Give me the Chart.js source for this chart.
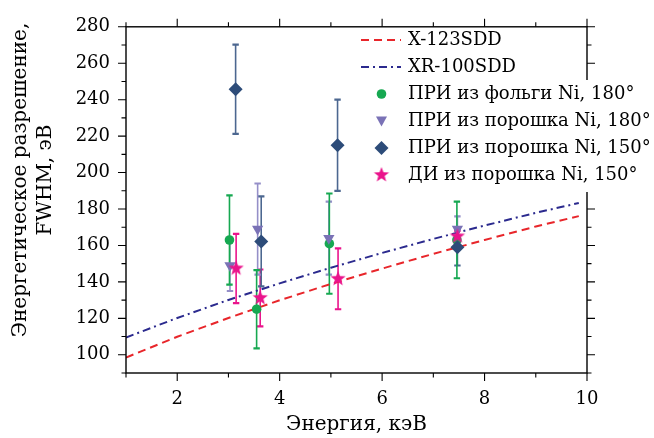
<!DOCTYPE html>
<html>
<head>
<meta charset="utf-8">
<script src="https://cdn.jsdelivr.net/npm/chart.js@4.4.1/dist/chart.umd.min.js"></script>
<style>
  html, body { margin: 0; padding: 0; background: #fff; }
  #c { display: block; }
</style>
</head>
<body>
<canvas id="c" width="654" height="438"></canvas>
<script>
// measured points (energy in keV, FWHM in eV, +/- error)
const energyFoil180 = [3.02, 3.55, 4.97, 7.46];
const fwhmFoil180 = [163, 125, 161, 163];
const errFoil180 = [24.5, 21.5, 27.5, 21];

const energyPowder180 = [3.03, 3.57, 4.96, 7.47];
const fwhmPowder180 = [149, 169, 164, 169];
const errPowder180 = [14, 25, 20, 7];

const energyPowder150 = [3.14, 3.64, 5.13, 7.47];
const fwhmPowder150 = [245.7, 162.2, 215, 159];
const errPowder150 = [24.5, 24.7, 25, 10];

const energyDI150 = [3.15, 3.62, 5.14, 7.47];
const fwhmDI150 = [147.4, 131.2, 141.7, 165];
const errDI150 = [19, 15.6, 16.7, 3];

// detector resolution curves
const lineEnergy = [1, 2, 3, 4, 5, 6, 7, 8, 9, 9.84];
const fwhmX123 = [98.5, 109.9, 120.2, 129.9, 138.9, 147.3, 155.4, 163.0, 170.4, 176.1];
const fwhmXR100 = [109.5, 120.2, 130.1, 139.2, 147.8, 155.9, 163.6, 170.9, 177.9, 183.3];

const xTickLabels = [2, 4, 6, 8, 10];
const yTickLabels = [100, 120, 140, 160, 180, 200, 220, 240, 260, 280];

const legendLabels = ['X-123SDD', 'XR-100SDD', 'ПРИ из фольги Ni, 180°', 'ПРИ из порошка Ni, 180°',
  'ПРИ из порошка Ni, 150°', 'ДИ из порошка Ni, 150°'];

const RED = '#e8262b', NAVY = '#2b2a8e', GREEN = '#16a851', PURPLE = '#7a72b6', DARK = '#2d4c79', PINK = '#ea148c';
const FONT = 'DejaVu Serif';

function pts(xs, ys) { return xs.map((x, i) => ({ x: x, y: ys[i] })); }

function starImage(r, color) {
  const c = document.createElement('canvas');
  c.width = c.height = Math.ceil(2 * r + 2);
  const g = c.getContext('2d');
  g.fillStyle = color;
  g.beginPath();
  for (let i = 0; i < 10; i++) {
    const a = -Math.PI / 2 + i * Math.PI / 5;
    const rr = i % 2 ? r * 0.42 : r;
    g.lineTo(c.width / 2 + rr * Math.cos(a), c.height / 2 + rr * Math.sin(a));
  }
  g.closePath();
  g.fill();
  return c;
}
const star = starImage(8, PINK);

const extras = {
  id: 'extras',
  beforeDatasetsDraw(chart) {
    const ctx = chart.ctx, xs = chart.scales.x, ys = chart.scales.y;
    chart.data.datasets.forEach(ds => {
      if (!ds.errors) return;
      ctx.save();
      ctx.strokeStyle = ds.errColor;
      ds.data.forEach((p, i) => {
        const e = ds.errors[i];
        const x = xs.getPixelForValue(p.x);
        const y1 = ys.getPixelForValue(p.y + e), y2 = ys.getPixelForValue(p.y - e);
        ctx.lineWidth = 1.6;
        ctx.beginPath(); ctx.moveTo(x, y1); ctx.lineTo(x, y2); ctx.stroke();
        ctx.lineWidth = 2.2;
        ctx.beginPath();
        ctx.moveTo(x - 3.2, y1); ctx.lineTo(x + 3.2, y1);
        ctx.moveTo(x - 3.2, y2); ctx.lineTo(x + 3.2, y2);
        ctx.stroke();
      });
      ctx.restore();
    });
  },
  afterDraw(chart) {
    const ctx = chart.ctx, xs = chart.scales.x, ys = chart.scales.y;
    const a = chart.chartArea;
    ctx.save();
    // frame
    ctx.strokeStyle = '#000';
    ctx.lineWidth = 1.4;
    ctx.strokeRect(a.left, a.top, a.right - a.left, a.bottom - a.top);
    ctx.lineWidth = 1.1;
    ctx.beginPath();
    for (let v = 1; v <= 10; v++) {
      const len = v % 2 === 0 ? 8 : 4.5;
      const x = xs.getPixelForValue(v);
      ctx.moveTo(x, a.bottom); ctx.lineTo(x, a.bottom + len);
      ctx.moveTo(x, a.top); ctx.lineTo(x, a.top - len);
    }
    for (let v = 90; v <= 280; v += 10) {
      const len = v % 20 === 0 ? 8 : 4.5;
      const y = ys.getPixelForValue(v);
      ctx.moveTo(a.left, y); ctx.lineTo(a.left - len, y);
      ctx.moveTo(a.right, y); ctx.lineTo(a.right + len, y);
    }
    ctx.stroke();

    // y axis title
    ctx.fillStyle = '#000';
    ctx.font = '20px "' + FONT + '"';
    ctx.textAlign = 'center';
    ctx.textBaseline = 'middle';
    ctx.save();
    ctx.translate(21, 180);
    ctx.rotate(-Math.PI / 2);
    ctx.fillText('Энергетическое разрешение,', 0, 0);
    ctx.fillText('FWHM, эВ', 0, 25);
    ctx.restore();

    // legend
    ctx.font = '18px "' + FONT + '"';
    ctx.fillStyle = '#fff';
    ctx.fillRect(355, 80, 299, 112);
    const rows = [40, 67, 94, 121, 148, 175];
    const mx = 381.5;
    ctx.lineWidth = 2;
    ctx.strokeStyle = RED;
    ctx.setLineDash([8, 5]);
    ctx.beginPath(); ctx.moveTo(361, rows[0]); ctx.lineTo(401, rows[0]); ctx.stroke();
    ctx.strokeStyle = NAVY;
    ctx.setLineDash([8, 4, 2, 4]);
    ctx.beginPath(); ctx.moveTo(361, rows[1]); ctx.lineTo(401, rows[1]); ctx.stroke();
    ctx.setLineDash([]);
    ctx.fillStyle = GREEN;
    ctx.beginPath(); ctx.arc(mx, rows[2], 4.8, 0, Math.PI * 2); ctx.fill();
    ctx.fillStyle = PURPLE;
    ctx.beginPath();
    ctx.moveTo(mx - 5.5, rows[3] - 4.5); ctx.lineTo(mx + 5.5, rows[3] - 4.5); ctx.lineTo(mx, rows[3] + 5.5);
    ctx.closePath(); ctx.fill();
    ctx.fillStyle = DARK;
    ctx.beginPath();
    ctx.moveTo(mx, rows[4] - 7); ctx.lineTo(mx + 7, rows[4]); ctx.lineTo(mx, rows[4] + 7); ctx.lineTo(mx - 7, rows[4]);
    ctx.closePath(); ctx.fill();
    ctx.drawImage(star, mx - star.width / 2, rows[5] - star.height / 2);

    ctx.fillStyle = '#000';
    ctx.textAlign = 'left';
    legendLabels.forEach((t, i) => ctx.fillText(t, 408, rows[i]));
    ctx.restore();
  }
};

Chart.defaults.font.family = FONT;
Chart.defaults.font.size = 18;
Chart.defaults.color = '#000';

new Chart(document.getElementById('c').getContext('2d'), {
  type: 'scatter',
  data: {
    datasets: [
      { label: legendLabels[5], data: pts(energyDI150, fwhmDI150), errors: errDI150, errColor: PINK,
        pointStyle: star, backgroundColor: PINK, order: 0 },
      { label: legendLabels[4], data: pts(energyPowder150, fwhmPowder150), errors: errPowder150, errColor: '#4c6790',
        pointStyle: 'rectRot', pointRadius: 7, backgroundColor: DARK, borderWidth: 0, order: 1 },
      { label: legendLabels[3], data: pts(energyPowder180, fwhmPowder180), errors: errPowder180, errColor: '#958fc8',
        pointStyle: 'triangle', rotation: 180, pointRadius: 6.5, backgroundColor: PURPLE, borderWidth: 0, order: 2 },
      { label: legendLabels[2], data: pts(energyFoil180, fwhmFoil180), errors: errFoil180, errColor: GREEN,
        pointStyle: 'circle', pointRadius: 4.8, backgroundColor: GREEN, borderWidth: 0, order: 3 },
      { label: legendLabels[1], data: pts(lineEnergy, fwhmXR100), showLine: true, pointRadius: 0,
        borderColor: NAVY, borderWidth: 2, borderDash: [8, 4, 2, 4], order: 10 },
      { label: legendLabels[0], data: pts(lineEnergy, fwhmX123), showLine: true, pointRadius: 0,
        borderColor: RED, borderWidth: 2, borderDash: [8, 5], order: 11 }
    ]
  },
  options: {
    responsive: false,
    animation: false,
    devicePixelRatio: 1,
    layout: { padding: { top: 22, right: 67, left: 0, bottom: 0 } },
    plugins: { legend: { display: false }, tooltip: { enabled: false } },
    scales: {
      x: {
        type: 'linear', min: 1, max: 10,
        grid: { display: false, drawTicks: false },
        border: { display: false },
        afterBuildTicks: s => { s.ticks = xTickLabels.map(v => ({ value: v })); },
        ticks: { padding: 16, maxRotation: 0, autoSkip: false },
        title: { display: true, text: 'Энергия, кэВ', font: { size: 20 }, padding: { top: 0, bottom: 1 } },
        afterFit: s => { s.height = 65; }
      },
      y: {
        type: 'linear', min: 90, max: 280,
        grid: { display: false, drawTicks: false },
        border: { display: false },
        afterBuildTicks: s => { s.ticks = yTickLabels.map(v => ({ value: v })); },
        ticks: { padding: 16, autoSkip: false },
        afterFit: s => { s.width = 126; }
      }
    }
  },
  plugins: [extras]
});
</script>
</body>
</html>
